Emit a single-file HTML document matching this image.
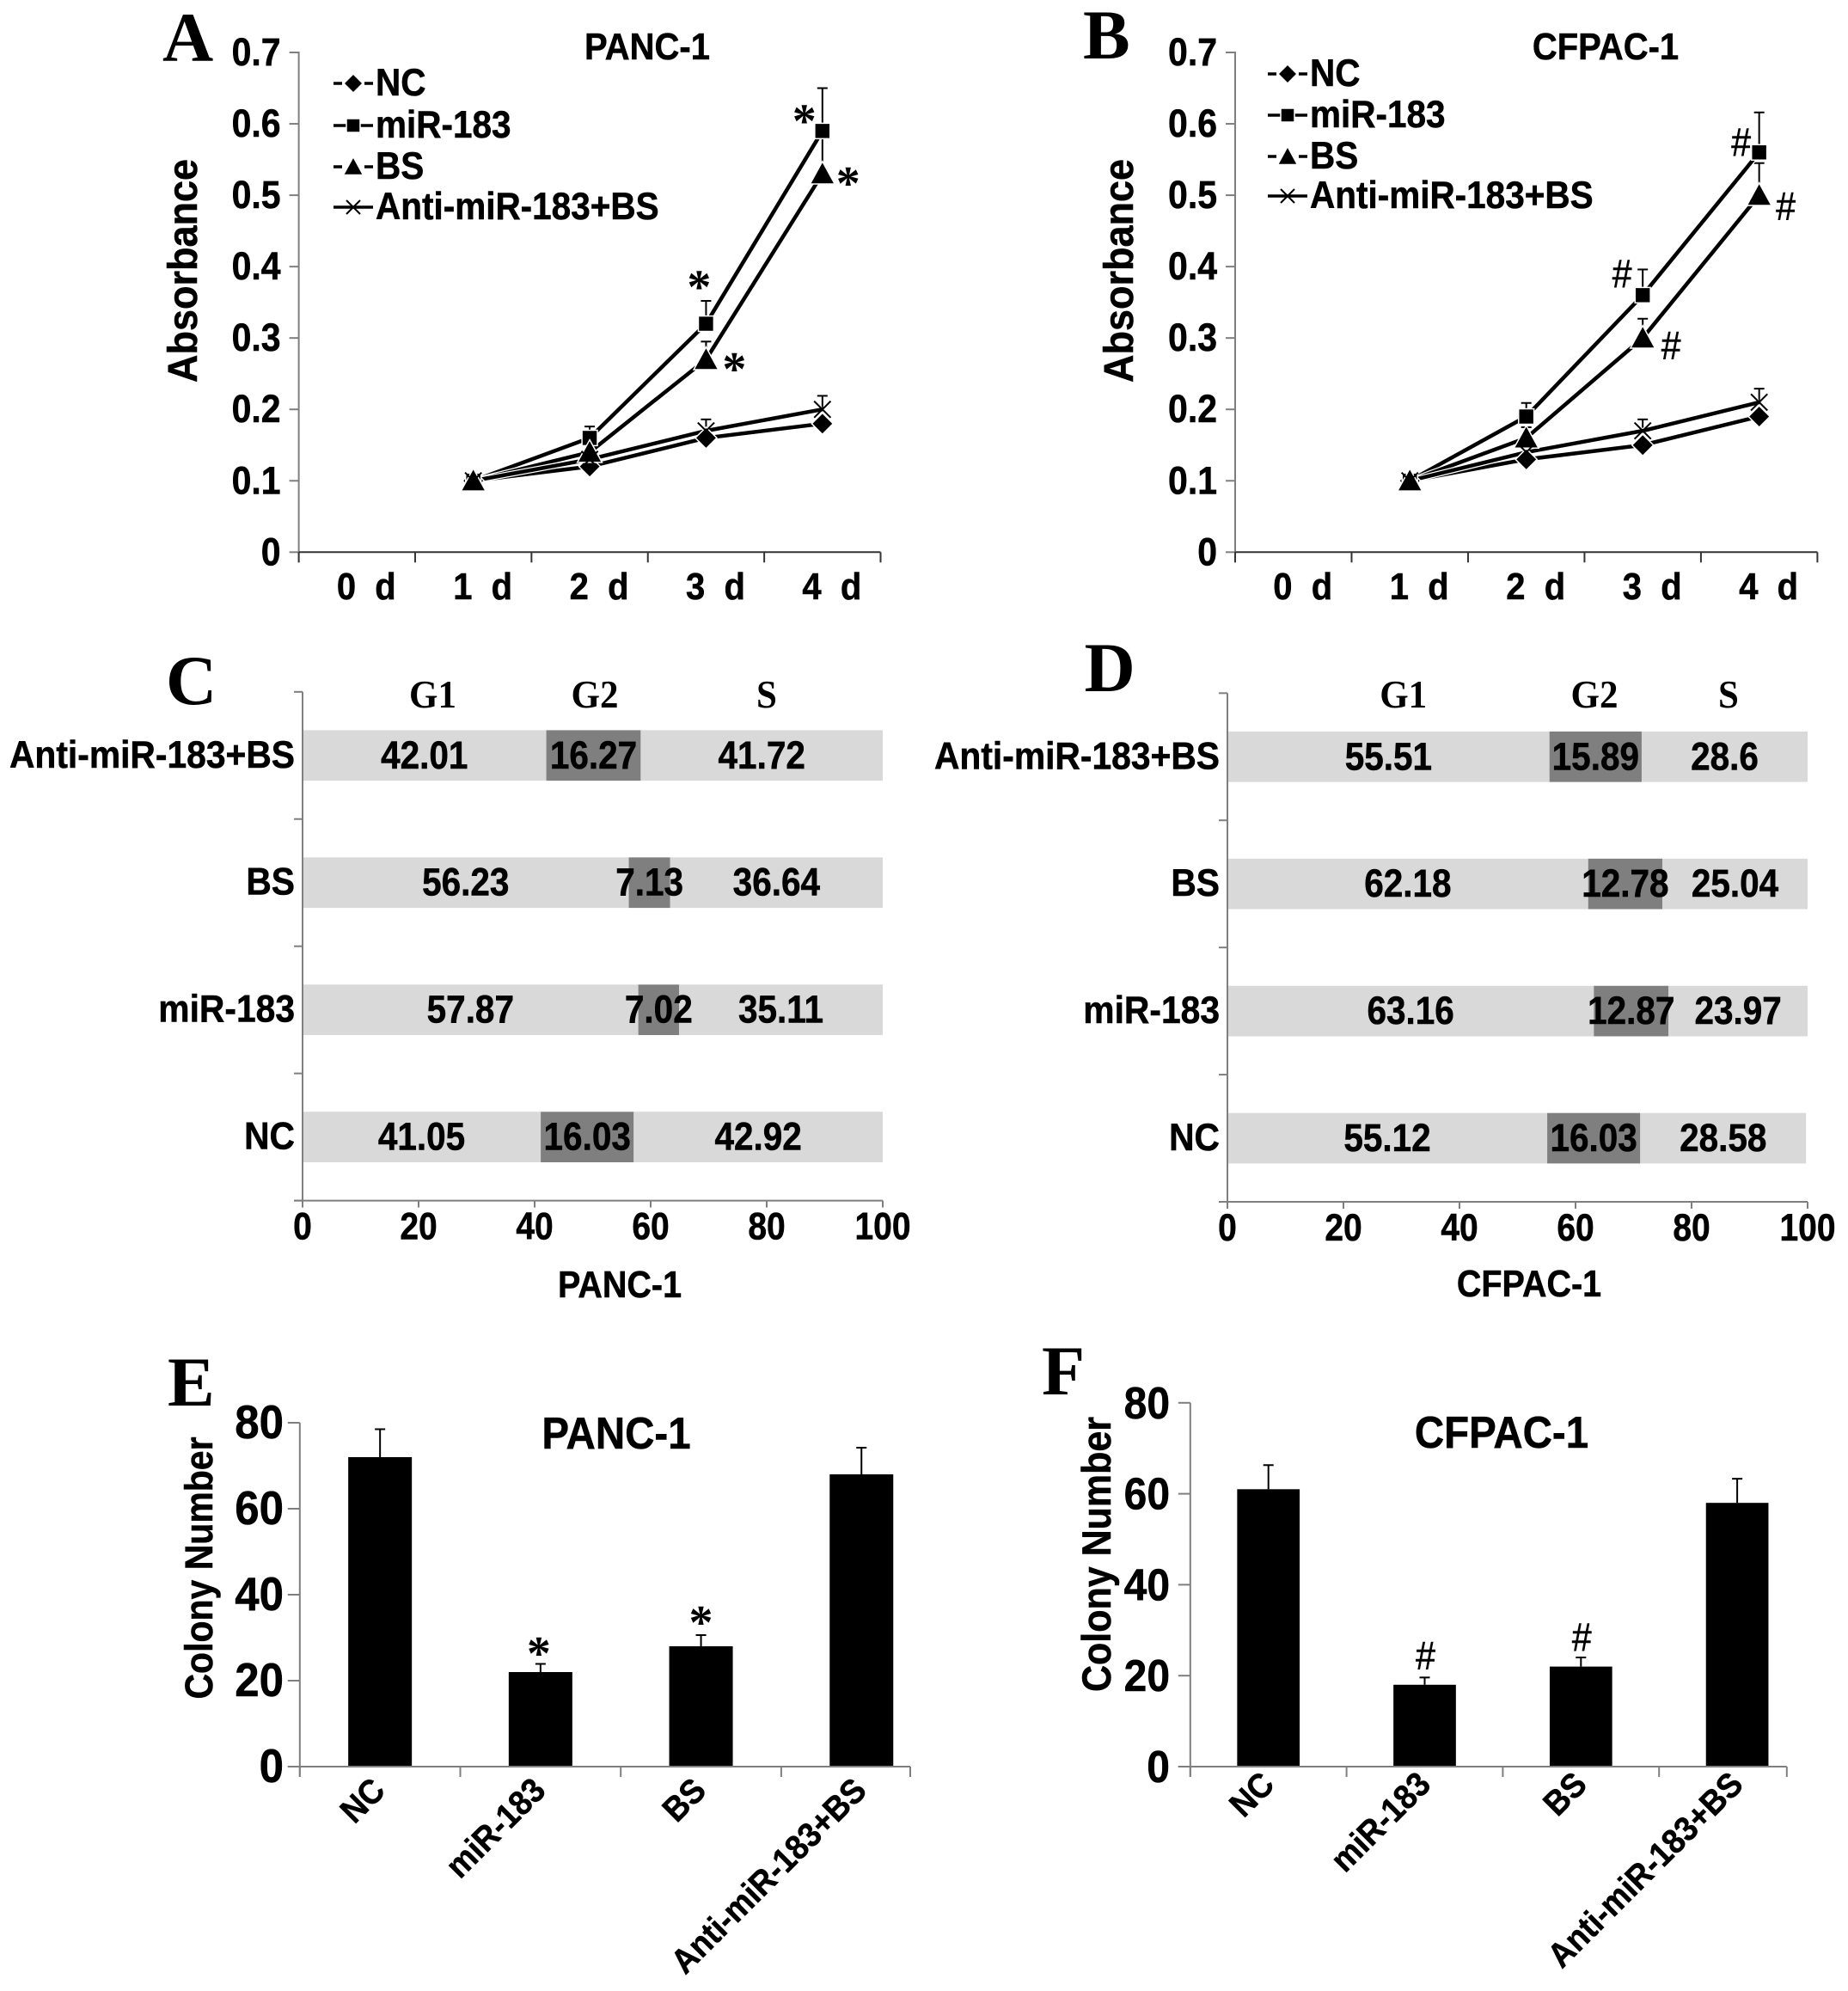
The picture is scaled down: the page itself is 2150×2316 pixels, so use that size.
<!DOCTYPE html>
<html lang="en">
<head>
<meta charset="utf-8">
<title>miR-183 proliferation, cell cycle and colony figure</title>
<style>
html,body{margin:0;padding:0;background:#fff;}
svg{display:block;}
text{font-family:"Liberation Sans",Arial,sans-serif;font-weight:700;fill:#000;stroke:#000;stroke-width:0.5;white-space:pre;}
</style>
</head>
<body>
<svg id="figure" xmlns="http://www.w3.org/2000/svg" width="2150" height="2316" viewBox="0 0 2150 2316">
<rect x="0" y="0" width="2150" height="2316" fill="#ffffff"/>
<g id="panel-a"></g>
<g id="panel-b"></g>
<g id="panel-c"></g>
<g id="panel-d"></g>
<g id="panel-e"></g>
<g id="panel-f"></g>
</svg>
<script>
/* ---------- data ---------- */
const dayCategories = ['0  d', '1  d', '2  d', '3  d', '4  d'];
const absorbanceTicks = ['0', '0.1', '0.2', '0.3', '0.4', '0.5', '0.6', '0.7'];
const seriesNames = ['NC', 'miR-183', 'BS', 'Anti-miR-183+BS'];

const panc1NC = [null, 0.10, 0.12, 0.16, 0.18];
const panc1Mir = [null, 0.10, 0.16, 0.32, 0.59];
const panc1BS = [null, 0.10, 0.14, 0.27, 0.53];
const panc1Anti = [null, 0.10, 0.13, 0.17, 0.20];
const panc1MirErr = [null, 0.005, 0.016, 0.032, 0.06];
const panc1BSErr = [null, 0.005, 0.014, 0.025, 0.05];
const panc1AntiErr = [null, 0.005, 0.010, 0.016, 0.019];

const cfpacNC = [null, 0.10, 0.13, 0.15, 0.19];
const cfpacMir = [null, 0.10, 0.19, 0.36, 0.56];
const cfpacBS = [null, 0.10, 0.16, 0.30, 0.50];
const cfpacAnti = [null, 0.10, 0.14, 0.17, 0.21];
const cfpacMirErr = [null, 0.005, 0.019, 0.036, 0.056];
const cfpacBSErr = [null, 0.005, 0.015, 0.027, 0.045];
const cfpacAntiErr = [null, 0.005, 0.010, 0.016, 0.019];

const cycleCategories = ['NC', 'miR-183', 'BS', 'Anti-miR-183+BS'];
const percentTicks = ['0', '20', '40', '60', '80', '100'];
const phaseNames = ['G1', 'G2', 'S'];
const panc1G1 = [41.05, 57.87, 56.23, 42.01];
const panc1G2 = [16.03, 7.02, 7.13, 16.27];
const panc1S = [42.92, 35.11, 36.64, 41.72];
const cfpacG1 = [55.12, 63.16, 62.18, 55.51];
const cfpacG2 = [16.03, 12.87, 12.78, 15.89];
const cfpacS = [28.58, 23.97, 25.04, 28.6];

const colonyCategories = ['NC', 'miR-183', 'BS', 'Anti-miR-183+BS'];
const colonyTicks = ['0', '20', '40', '60', '80'];
const panc1Colony = [72, 22, 28, 68];
const panc1ColonyErr = [6.5, 1.9, 2.6, 6.2];
const cfpacColony = [61, 18, 22, 58];
const cfpacColonyErr = [5.3, 1.6, 2.0, 5.3];

/* ---------- helpers ---------- */
const NS = 'http://www.w3.org/2000/svg';
const AXIS = '#7f7f7f';
function mk(parent, tag, attrs, name) {
  const el = document.createElementNS(NS, tag);
  for (const k in attrs) el.setAttribute(k, attrs[k]);
  
  
  parent.appendChild(el);
  return el;
}
function line(p, x1, y1, x2, y2, color, w, name) {
  return mk(p, 'line', {x1: x1, y1: y1, x2: x2, y2: y2, stroke: color, 'stroke-width': w}, name);
}
function label(p, str, x, y, size, name, o) {
  o = o || {};
  let t = 'translate(' + x + ' ' + y + ')';
  if (o.rotate) t += ' rotate(' + o.rotate + ')';
  if (o.sx || o.sy) t += ' scale(' + (o.sx || 1) + ' ' + (o.sy || 1) + ')';
  const attrs = {transform: t, 'font-size': size, 'text-anchor': o.anchor || 'middle'};
  if (o.family) attrs.style = 'font-family:' + o.family + ';font-weight:' + (o.weight || 700) + ';stroke-width:0';
  else if (o.weight) attrs.style = 'font-weight:' + o.weight;
  const el = mk(p, 'text', attrs, name);
  el.textContent = str;
  return el;
}
const SERIF = '"Liberation Serif",serif';
function annotation(p, sym, cx, cy) {
  if (sym === '*') {
    label(p, '*', cx, cy + 25, 56, 'asterisk-annotation', {family: SERIF});
  } else {
    label(p, '#', cx, cy + 16, 41, 'hash-annotation', {weight: 400, sy: 1.12});
  }
}
function marker(p, kind, x, y, s, name) {
  const halo = {stroke: '#fff', 'stroke-width': 1.5};
  if (kind === 0) {
    mk(p, 'polygon', Object.assign({points: [x, y - s, x + s, y, x, y + s, x - s, y].join(' '), fill: '#000'}, halo), name);
  } else if (kind === 1) {
    mk(p, 'rect', Object.assign({x: x - s * 0.8, y: y - s * 0.8, width: s * 1.6, height: s * 1.6, fill: '#000'}, halo), name);
  } else if (kind === 2) {
    mk(p, 'polygon', Object.assign({points: [x, y - s * 1.15, x + s * 1.15, y + s * 0.95, x - s * 1.15, y + s * 0.95].join(' '), fill: '#000'}, halo), name);
  } else {
    const d = s * 0.8;
    const g = mk(p, 'g', {}, name);
    line(g, x - d, y - d, x + d, y + d, '#000', 2, 'x-marker-stroke');
    line(g, x - d, y + d, x + d, y - d, '#000', 2, 'x-marker-stroke');
  }
}

/* ---------- panels A, B ---------- */
function lineChart(cfg) {
  const p = document.getElementById(cfg.id);
  const x0 = cfg.x0, x1 = cfg.x1, yB = 642.3, yT = 61;
  const step = (x1 - x0) / dayCategories.length;
  const xs = i => x0 + (i + 0.5) * step;
  const ys = v => yB - (v / 0.7) * (yB - yT);

  label(p, cfg.letter, cfg.letterX, cfg.letterY, 82, 'panel-letter', {family: SERIF, anchor: 'start'});
  label(p, cfg.title, cfg.titleX, 69, 40, 'chart-title', {sy: 1.08});
  label(p, 'Absorbance', cfg.yTitleX, 315, 45, 'y-axis-title', {rotate: -90, sy: 1.08});

  line(p, x0, yT - 1, x0, yB + 12, AXIS, 2, 'y-axis-line');
  line(p, x0, yB, x1, yB, '#333', 2, 'x-axis-line');
  absorbanceTicks.forEach(t => {
    const y = ys(parseFloat(t));
    line(p, x0 - 11, y, x0, y, AXIS, 2, 'y-tick');
    label(p, t, x0 - 21, y + 15, 41, 'y-tick-label', {anchor: 'end', sy: 1.1});
  });
  dayCategories.forEach((c, i) => {
    line(p, x0 + i * step, yB, x0 + i * step, yB + 12, '#333', 2, 'x-tick');
    label(p, c, xs(i) + 11, 697, 40, 'x-tick-label', {sy: 1.1});
  });
  line(p, x1, yB, x1, yB + 12, '#333', 2, 'x-tick');

  cfg.series.forEach((vals, s) => {
    const err = cfg.errors[s];
    if (!err) return;
    vals.forEach((v, i) => {
      if (v === null) return;
      const top = ys(v + err[i]);
      line(p, xs(i), ys(v), xs(i), top, '#000', 2, 'error-bar');
      line(p, xs(i) - 6, top, xs(i) + 6, top, '#000', 2, 'error-bar-cap');
    });
  });
  cfg.series.forEach((vals, s) => {
    const pts = [];
    vals.forEach((v, i) => { if (v !== null) pts.push(xs(i) + ',' + ys(v)); });
    mk(p, 'polyline', {points: pts.join(' '), fill: 'none', stroke: '#fff', 'stroke-width': 7}, 'series-line-halo');
    mk(p, 'polyline', {points: pts.join(' '), fill: 'none', stroke: '#000', 'stroke-width': 4.5}, 'series-line');
  });
  cfg.series.forEach((vals, s) => {
    vals.forEach((v, i) => {
      if (v !== null) marker(p, s, xs(i), ys(v), s === 3 ? 12 : s === 1 ? 11.2 : 12.5, 'series-marker');
    });
  });
  cfg.notes.forEach(n => {
    const v = cfg.series[n[0]][n[1]];
    annotation(p, cfg.symbol, xs(n[1]) + n[2], ys(v) + n[3]);
  });
  seriesNames.forEach((nm, s) => {
    const y = cfg.legendY[s];
    const lx = cfg.legendX;
    if (s === 0 || s === 2) {
      line(p, lx, y, lx + 46, y, '#000', 3.5, 'legend-line').setAttribute('stroke-dasharray', '10 26 10');
    } else {
      line(p, lx, y, lx + 46, y, '#000', 3.5, 'legend-line');
    }
    marker(p, s, lx + 23, y, s === 0 ? 11 : s === 1 ? 10 : 10, 'legend-marker');
    label(p, nm, lx + 49, y + 14, 40.5, 'legend-label', {anchor: 'start', sy: 1.1});
  });
}
lineChart({id: 'panel-a', letter: 'A', letterX: 189, letterY: 71, title: 'PANC-1', titleX: 753, yTitleX: 229,
  x0: 347.6, x1: 1024.5, symbol: '*',
  series: [panc1NC, panc1Mir, panc1BS, panc1Anti],
  errors: [null, panc1MirErr, panc1BSErr, panc1AntiErr],
  notes: [[1, 4, -21, -18], [2, 4, 30, 5], [1, 3, -8, -49], [2, 3, 33, 5]],
  legendX: 388, legendY: [97, 146, 194, 241]});
lineChart({id: 'panel-b', letter: 'B', letterX: 1260, letterY: 68, title: 'CFPAC-1', titleX: 1868, yTitleX: 1318,
  x0: 1437, x1: 2114.4, symbol: '#',
  series: [cfpacNC, cfpacMir, cfpacBS, cfpacAnti],
  errors: [null, cfpacMirErr, cfpacBSErr, cfpacAntiErr],
  notes: [[1, 4, -21, -12], [2, 4, 31, 13], [1, 3, -24, -25], [2, 3, 33, 9]],
  legendX: 1475, legendY: [86, 134, 182, 228]});

/* ---------- panels C, D ---------- */
function stackedChart(cfg) {
  const p = document.getElementById(cfg.id);
  const x0 = cfg.x0, x1 = cfg.x1, yT = cfg.yT, yB = cfg.yB;
  const xs = v => x0 + (v / 100) * (x1 - x0);
  const band = (yB - yT) / cycleCategories.length;
  const barH = band * 0.397;
  const fills = ['#d9d9d9', '#7f7f7f', '#d9d9d9'];

  label(p, cfg.letter, cfg.letterX, cfg.letterY, 82, 'panel-letter', {family: SERIF, anchor: 'start'});
  phaseNames.forEach((ph, i) => {
    label(p, ph, cfg.phaseX[i], 823, 43, 'phase-header-' + ph.toLowerCase(), {family: SERIF, sy: 1.05});
  });
  cycleCategories.forEach((c, r) => {
    const cy = yB - (r + 0.5) * band;
    let acc = 0;
    const values = cfg.phases.map(a => a[r]);
    values.forEach((v, k) => {
      mk(p, 'rect', {x: xs(acc), y: cy - barH / 2, width: xs(acc + v) - xs(acc), height: barH, fill: fills[k]}, 'bar-segment-' + phaseNames[k].toLowerCase());
      acc += v;
    });
    acc = 0;
    values.forEach(v => {
      label(p, String(v), xs(acc + v / 2), cy + 15, 40.5, 'segment-value', {sy: 1.12});
      acc += v;
    });
    label(p, c, x0 - 9, cy + 14, 40.8, 'category-label', {anchor: 'end', sy: 1.1});
  });
  line(p, x0, yT, x0, yB, AXIS, 2, 'y-axis-line');
  line(p, x0 - 10, yB, x1, yB, AXIS, 2, 'x-axis-line');
  for (let i = 0; i <= cycleCategories.length; i++) {
    line(p, x0 - 10, yB - i * band, x0, yB - i * band, AXIS, 2, 'y-tick');
  }
  percentTicks.forEach(t => {
    const x = xs(parseFloat(t));
    line(p, x, yB, x, yB + 8, AXIS, 2, 'x-tick');
    label(p, t, x, yB + 45, 39, 'x-tick-label', {sy: 1.15});
  });
  label(p, cfg.title, cfg.titleX, cfg.titleY, 39.5, 'x-axis-title', {sy: 1.1});
}
stackedChart({id: 'panel-c', letter: 'C', letterX: 193, letterY: 819, x0: 352, x1: 1027, yT: 804.8, yB: 1396.6,
  phases: [panc1G1, panc1G2, panc1S], phaseX: [503.5, 692, 892], title: 'PANC-1', titleX: 721, titleY: 1509});
stackedChart({id: 'panel-d', letter: 'D', letterX: 1261.5, letterY: 804, x0: 1428, x1: 2103, yT: 806.3, yB: 1398,
  phases: [cfpacG1, cfpacG2, cfpacS], phaseX: [1632.7, 1855, 2011], title: 'CFPAC-1', titleX: 1779, titleY: 1508});

/* ---------- panels E, F ---------- */
function barChart(cfg) {
  const p = document.getElementById(cfg.id);
  const x0 = cfg.x0, x1 = cfg.x1, yB = 2055, yT = cfg.yT;
  const step = cfg.step;
  const xs = i => x0 + (i + 0.5) * step;
  const ys = v => yB - (v / 80) * (yB - yT);

  label(p, cfg.letter, cfg.letterX, cfg.letterY, 82, 'panel-letter', {family: SERIF, anchor: 'start'});
  label(p, cfg.title, cfg.titleX, cfg.titleY, 47.5, 'chart-title', {sy: 1.1});
  label(p, 'Colony Number', cfg.yTitleX, cfg.yTitleY, cfg.yTitleSize, 'y-axis-title', {rotate: -90, sy: 1.1});

  cfg.values.forEach((v, i) => {
    const top = ys(v + cfg.errors[i]);
    line(p, xs(i), ys(v), xs(i), top, '#000', 2, 'error-bar');
    line(p, xs(i) - 6, top, xs(i) + 6, top, '#000', 2, 'error-bar-cap');
    mk(p, 'rect', {x: xs(i) - cfg.barW / 2, y: ys(v), width: cfg.barW, height: yB - ys(v), fill: '#000'}, 'bar-' + colonyCategories[i].toLowerCase());
    label(p, colonyCategories[i], xs(i) + cfg.tickDx, yB + cfg.tickDy, 37, 'x-tick-label', {anchor: 'end', rotate: -45, sy: 1.08});
  });
  line(p, x0, yT, x0, yB + 12, AXIS, 2, 'y-axis-line');
  line(p, x0 - 14, yB, x1, yB, AXIS, 2, 'x-axis-line');
  colonyTicks.forEach(t => {
    const y = ys(parseFloat(t));
    line(p, x0 - 14, y, x0, y, AXIS, 2, 'y-tick');
    label(p, t, cfg.tickRight, y + 18, cfg.tickSize, 'y-tick-label', {anchor: 'end', sy: 1.08});
  });
  for (let i = 0; i < colonyCategories.length; i++) {
    line(p, x0 + i * step, yB, x0 + i * step, yB + 12, AXIS, 2, 'x-tick');
  }
  line(p, x1, yB, x1, yB + 12, AXIS, 2, 'x-tick');
  cfg.notes.forEach(n => {
    annotation(p, cfg.symbol, xs(n[0]) + n[1], ys(cfg.values[n[0]]) + n[2]);
  });
}
barChart({id: 'panel-e', letter: 'E', letterX: 195, letterY: 1635, title: 'PANC-1', titleX: 717, titleY: 1685,
  yTitleX: 247, yTitleY: 1824, yTitleSize: 41, x0: 348.8, x1: 1059, step: 186.7, yT: 1655, barW: 74, tickDx: 8, tickDy: 30, tickRight: 330, tickSize: 51,
  values: panc1Colony, errors: panc1ColonyErr, symbol: '*', notes: [[1, -2, -28], [2, 0, -34]]});
barChart({id: 'panel-f', letter: 'F', letterX: 1212, letterY: 1622, title: 'CFPAC-1', titleX: 1747, titleY: 1684,
  yTitleX: 1292, yTitleY: 1808, yTitleSize: 43, x0: 1384.8, x1: 2078.8, step: 181.8, yT: 1631.8, barW: 72.7, tickDx: 9, tickDy: 23, tickRight: 1361, tickSize: 48,
  values: cfpacColony, errors: cfpacColonyErr, symbol: '#', notes: [[1, 1, -34], [2, 1, -34]]});
</script>
</body>
</html>
